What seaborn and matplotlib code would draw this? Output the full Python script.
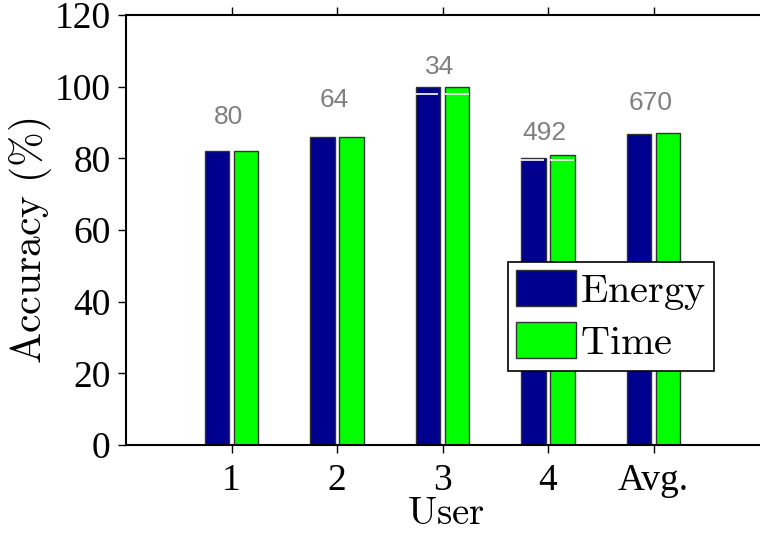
import matplotlib
matplotlib.use("Agg")
import matplotlib.pyplot as plt
import seaborn as sns
import pandas as pd

users = ["1", "2", "3", "4", "Avg."]
energy = [82, 86, 100, 80, 86.8]
time_ = [82, 86, 100, 81, 87]
counts = ["80", "64", "34", "492", "670"]
count_y = [91.5, 96.3, 105.5, 87, 95.5]
yticks = [0, 20, 40, 60, 80, 100, 120]

df = pd.DataFrame({
    "User": users * 2,
    "Accuracy": energy + time_,
    "Metric": ["Energy"] * len(users) + ["Time"] * len(users),
})

sns.set_style("white")
plt.rcParams["font.family"] = ["Liberation Serif", "DejaVu Serif"]
plt.rcParams["mathtext.fontset"] = "cm"
plt.rcParams["text.color"] = "black"
plt.rcParams["xtick.color"] = "black"
plt.rcParams["ytick.color"] = "black"
plt.rcParams["axes.labelcolor"] = "black"

fig = plt.figure(figsize=(7.6, 5.34), dpi=100)
ax = fig.add_axes([126 / 760, 89 / 534, 633 / 760, 430 / 534])

sns.barplot(data=df, x="User", y="Accuracy", hue="Metric", order=users,
            palette={"Energy": "#00008F", "Time": "#00FF00"},
            width=0.55, gap=0.16, edgecolor="#333333", linewidth=1.0,
            saturation=1, ax=ax, legend=True)

# white seams inside the top of some bars (as in the original render)
ax.hlines([98, 98], [1.73, 2.02], [1.96, 2.25], color="white", lw=1.2, zorder=5)
ax.hlines([79.4, 79.4], [2.73, 3.02], [2.96, 3.25], color="white", lw=1.2, zorder=5)

for i, (c, y) in enumerate(zip(counts, count_y)):
    ax.text(i - 0.03, y, c, ha="center", va="center", color="#808080",
            fontsize=19, family=["Liberation Sans", "DejaVu Sans"])

ax.set_xlim(-1, 5)
ax.set_ylim(0, 120)
ax.set_yticks(yticks)
ax.set_yticklabels([str(v) for v in yticks])
ax.tick_params(axis="both", labelsize=27, direction="out", length=6, width=1,
               color="black", labelcolor="black", pad=5)
ax.tick_params(axis="x", top=True, bottom=True, pad=7)
ax.tick_params(axis="y", left=True, right=False)
for s in ["left", "bottom", "top"]:
    ax.spines[s].set_visible(True)
    ax.spines[s].set_color("black")
    ax.spines[s].set_linewidth(1.5)
ax.spines["right"].set_visible(False)

ax.set_ylabel(r"$\mathrm{Accuracy\ (\%)}$", fontsize=30)
ax.yaxis.set_label_coords(-0.114, 0.474)
ax.set_xlabel(r"$\mathrm{User}$", fontsize=28)
ax.xaxis.set_label_coords(0.505, -0.118)

leg = ax.legend(loc="upper left", bbox_to_anchor=(0.603, 0.426), fontsize=29,
                frameon=True, fancybox=False, framealpha=1,
                handlelength=1.5, handleheight=1.0,
                handletextpad=0.1, labelspacing=0.25, borderpad=0.2,
                borderaxespad=0)
leg.get_frame().set_edgecolor("black")
leg.get_frame().set_linewidth(1.2)
for t in leg.get_texts():
    t.set_text(r"$\mathrm{" + t.get_text() + "}$")
for h in leg.legend_handles:
    h.set_edgecolor("#333333")

fig.savefig("out.png", dpi=100)
